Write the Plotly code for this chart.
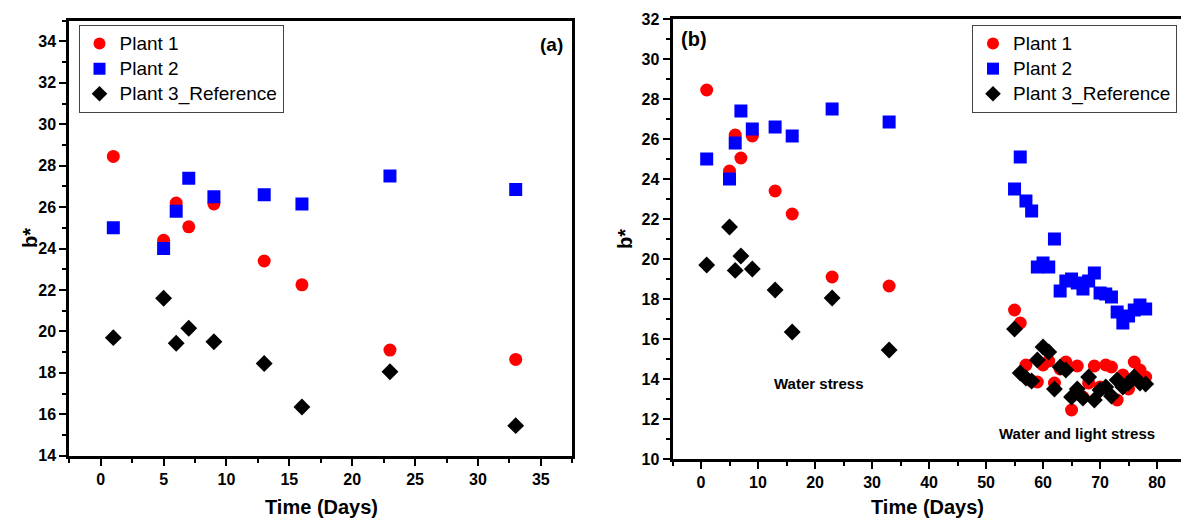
import plotly.graph_objects as go

W, H = 1181, 520

# ---------------- data ----------------
days_a = [1, 5, 6, 7, 9, 13, 16, 23, 33]
plant1_a = [28.45, 24.4, 26.2, 25.05, 26.15, 23.4, 22.25, 19.1, 18.65]
plant2_a = [25.0, 24.0, 25.8, 27.4, 26.5, 26.6, 26.15, 27.5, 26.85]
plant3_a = [19.7, 21.6, 19.43, 20.15, 19.5, 18.45, 16.35, 18.05, 15.45]

days_late = [55, 56, 57, 58, 59, 60, 61, 62, 63, 64, 65, 66,
             67, 68, 69, 70, 71, 72, 73, 74, 75, 76, 77, 78]
plant1_late = [17.45, 16.8, 14.7, 13.9, 13.85, 14.7, 14.9, 13.8, 14.5, 14.85, 12.45, 14.65,
               13.1, 13.8, 14.65, 13.6, 14.7, 14.6, 12.95, 14.2, 13.5, 14.85, 14.45, 14.1]
plant2_late = [23.5, 25.1, 22.9, 22.4, 19.6, 19.8, 19.6, 21.0, 18.4, 18.9, 19.0, 18.8,
               18.5, 18.9, 19.3, 18.3, 18.25, 18.1, 17.35, 16.8, 17.15, 17.45, 17.7, 17.5]
plant3_late = [16.5, 14.3, 14.05, 13.9, 14.95, 15.6, 15.35, 13.5, 14.6, 14.45, 13.1, 13.5,
               13.05, 14.1, 12.95, 13.45, 13.6, 13.15, 13.95, 13.6, 13.8, 14.1, 13.8, 13.75]

days_b = days_a + days_late
plant1_b = plant1_a + plant1_late
plant2_b = plant2_a + plant2_late
plant3_b = plant3_a + plant3_late

names = ["Plant 1", "Plant 2", "Plant 3_Reference"]
colors = ["#FF0000", "#0000FF", "#000000"]
symbols = ["circle", "square", "diamond"]

FONT = "Liberation Sans, Arial, sans-serif"

fig = go.Figure()

def legend_label(s):
    return '<span style="font-size:19px">' + s + '</span>'

series_a = [plant1_a, plant2_a, plant3_a]
series_b = [plant1_b, plant2_b, plant3_b]
for i in range(3):
    fig.add_trace(go.Scatter(
        x=days_a, y=series_a[i], mode="markers", name=legend_label(names[i]),
        marker=dict(symbol=symbols[i], color=colors[i], size=13, line=dict(width=0)),
        xaxis="x", yaxis="y", legend="legend"))
for i in range(3):
    fig.add_trace(go.Scatter(
        x=days_b, y=series_b[i], mode="markers", name=legend_label(names[i]),
        marker=dict(symbol=symbols[i], color=colors[i], size=13, line=dict(width=0)),
        xaxis="x2", yaxis="y2", legend="legend2"))

def px_x(p):
    return p / W

def px_y(p):
    return (H - p) / H

axis_common = dict(
    showline=True, linecolor="black", linewidth=3,
    ticks="outside", ticklen=7, tickwidth=2, tickcolor="black",
    showgrid=False, zeroline=False,
    tickfont=dict(family=FONT, size=16, color="black", weight="bold"),
    automargin=False,
)

fig.update_layout(
    width=W, height=H,
    margin=dict(l=0, r=0, t=0, b=0),
    paper_bgcolor="white", plot_bgcolor="white",
    xaxis=dict(domain=[px_x(69.3), px_x(572.3)], range=[-2.5, 37.5], dtick=5, tick0=0,
               mirror=True, anchor="y",
               minor=dict(dtick=2.5, tick0=0, ticks="outside", ticklen=4, tickwidth=2, tickcolor="black"),
               **axis_common),
    yaxis=dict(domain=[px_y(455.7), px_y(20.7)], range=[14, 35.0], dtick=2, tick0=14,
               mirror=True, anchor="x",
               minor=dict(dtick=1, tick0=14, ticks="outside", ticklen=4, tickwidth=2, tickcolor="black"),
               **axis_common),
    xaxis2=dict(domain=[px_x(672.5), 1.0], range=[-5, 84.2], dtick=10, tick0=0,
                mirror=True, anchor="y2",
                minor=dict(dtick=5, tick0=0, ticks="outside", ticklen=4, tickwidth=2, tickcolor="black"),
                **axis_common),
    yaxis2=dict(domain=[px_y(459), px_y(19)], range=[10, 32], dtick=2, tick0=10,
                mirror=False, anchor="x2",
                minor=dict(dtick=1, tick0=10, ticks="outside", ticklen=4, tickwidth=2, tickcolor="black"),
                **axis_common),
    legend=dict(x=px_x(78.5), y=px_y(25), xanchor="left", yanchor="top",
                bgcolor="white", bordercolor="#444444", borderwidth=1,
                font=dict(family=FONT, size=17, color="black"),
                tracegroupgap=0, itemsizing="constant"),
    legend2=dict(x=px_x(972), y=px_y(25), xanchor="left", yanchor="top",
                 bgcolor="white", bordercolor="#444444", borderwidth=1,
                 font=dict(family=FONT, size=17, color="black"),
                 tracegroupgap=0, itemsizing="constant"),
    showlegend=True,
)

def ann(text, x, y, size, angle=0):
    fig.add_annotation(text=text, x=px_x(x), y=px_y(y), xref="paper", yref="paper",
                       xanchor="center", yanchor="middle", showarrow=False, textangle=angle,
                       font=dict(family=FONT, size=size, color="black", weight="bold"))

ann("Time (Days)", 321, 507, 20)
ann("Time (Days)", 928, 507, 20)
ann("b*", 30, 238, 20, -90)
ann("b*", 625, 239, 20, -90)
ann("(a)", 551, 44, 19)
ann("(b)", 694, 39, 20)
ann("Water stress", 819, 383, 15)
ann("Water and light stress", 1077, 433, 15)

fig.write_html(
    "out.html",
    config={"displayModeBar": False},
    post_script="document.body.style.margin='0';document.body.style.padding='0';"
                "document.body.style.overflow='hidden';",
)
